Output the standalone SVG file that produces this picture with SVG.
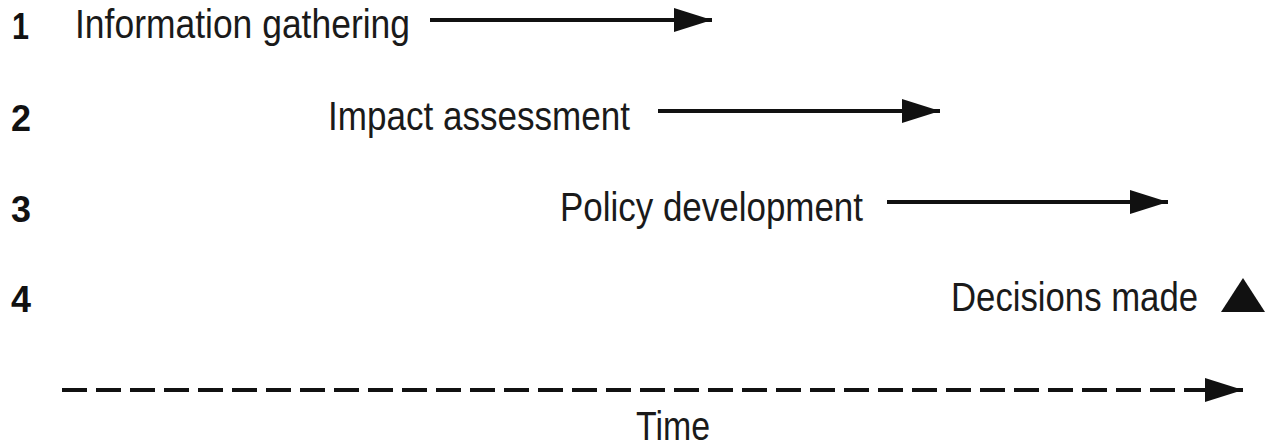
<svg xmlns="http://www.w3.org/2000/svg" width="1265" height="448" viewBox="0 0 1265 448">
<style>
.lbl{font-family:"Liberation Sans Narrow","Liberation Sans",Arial,sans-serif;font-size:40px;fill:#1a1a1a}
.num{font-family:"Liberation Sans Narrow","Liberation Sans",Arial,sans-serif;font-size:37px;font-weight:bold;fill:#111}
.arr{stroke:#111;stroke-width:4;fill:none}
.dash{stroke:#111;stroke-width:4;fill:none;stroke-dasharray:25 9}
</style>
<defs>
<marker id="ah" markerUnits="userSpaceOnUse" markerWidth="40" markerHeight="24" refX="38" refY="12" orient="auto">
<path d="M0,0 L38,12 L0,24 Z" fill="#111"/>
</marker>
</defs>
<g id="row1">
<text class="num" x="12" y="39" textLength="17" lengthAdjust="spacingAndGlyphs">1</text>
<text class="lbl" x="75" y="38" textLength="335" lengthAdjust="spacingAndGlyphs">Information gathering</text>
</g>
<g id="row2">
<text class="num" x="11" y="131" textLength="20" lengthAdjust="spacingAndGlyphs">2</text>
<text class="lbl" x="328" y="130" textLength="302" lengthAdjust="spacingAndGlyphs">Impact assessment</text>
</g>
<g id="row3">
<text class="num" x="11" y="222" textLength="20" lengthAdjust="spacingAndGlyphs">3</text>
<text class="lbl" x="560" y="221" textLength="303" lengthAdjust="spacingAndGlyphs">Policy development</text>
</g>
<g id="row4">
<text class="num" x="11" y="312" textLength="20" lengthAdjust="spacingAndGlyphs">4</text>
<text class="lbl" x="951" y="311" textLength="247" lengthAdjust="spacingAndGlyphs">Decisions made</text>
<polygon points="1243,278 1265,312 1221,312" fill="#111"/>
</g>
<g id="time">
<text class="lbl" x="636" y="440" textLength="74" lengthAdjust="spacingAndGlyphs">Time</text>
</g>
<g id="connectors">
<line class="arr" x1="430" y1="20" x2="712" y2="20" marker-end="url(#ah)"/>
<line class="arr" x1="658" y1="111" x2="940" y2="111" marker-end="url(#ah)"/>
<line class="arr" x1="887" y1="202" x2="1168" y2="202" marker-end="url(#ah)"/>
<line class="dash" x1="62" y1="390" x2="1243" y2="390" marker-end="url(#ah)"/>
</g>
</svg>
